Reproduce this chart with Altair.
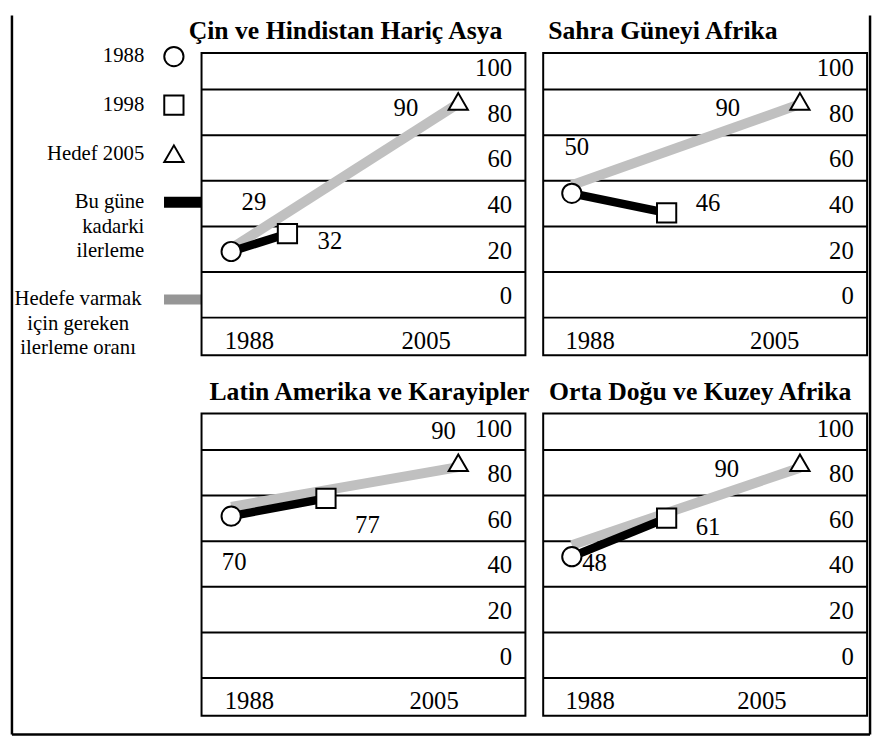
import altair as alt
import pandas as pd

SERIF = "Liberation Serif"

# ---------------- data ----------------
regions = [
    "Çin ve Hindistan Hariç Asya",
    "Sahra Güneyi Afrika",
    "Latin Amerika ve Karayipler",
    "Orta Doğu ve Kuzey Afrika",
]
years = [1988, 1998, 2005]
# heights at which the markers are drawn
marker_1988 = [29.0, 54.5, 71.0, 53.2]
marker_1998 = [36.8, 45.9, 78.8, 70.1]
marker_2005 = [94.8, 94.8, 94.4, 94.4]
# grey "required progress" line, start (1988) and end (2005) as drawn
required_start = [30.3, 58.1, 75.1, 58.3]
required_end = [93.9, 93.6, 92.5, 92.2]
# printed value labels
label_1988 = ["29", "50", "70", "48"]
label_1998 = ["32", "46", "77", "61"]
label_2005 = ["90", "90", "90", "90"]
y_tick_values = [0, 20, 40, 60, 80, 100]
x_tick_values = [1988, 2005]

legend_right_text = ["1988", "1998", "Hedef 2005", "Bu güne", "kadarki", "ilerleme"]
legend_right_row = [0, 2, 4, 6, 7, 8]
legend_center_text = ["Hedefe varmak", "için gereken", "ilerleme oranı"]
legend_center_row = [10, 11, 12]
legend_symbol_year = [1988, 1998, 2005]
legend_symbol_row = [0, 2, 4]
legend_progress_row = [6]
legend_required_row = [10]

# ---------------- layout / style ----------------
PANEL_W, PANEL_H = 328, 306
LEGEND_W = 174
X_RANGE = [[30, 87, 260], [29, 125, 260], [30, 126, 260], [29, 125, 260]]
X_LABEL_2005_SHIFT = [-33, -26, -25, -39]
TITLE_DX = [-13, 5, 8, 6]
LABEL_SHIFT = [
    [(23, -50), (43, 7), (-53, 7)],
    [(5, -47), (42, -10), (-73, 7)],
    [(3, 47), (42, 27), (-15, -32)],
    [(23, 6), (42, 9), (-74, 6)],
]
GREY_LINE = "#c0c0c0"
GREY_LEGEND = "#969696"
SHAPES = ["circle", "square", "triangle-up"]
NO_STROKE = alt.ViewBackground(stroke="transparent")


def panel(i):
    x_enc = alt.X(
        "year:Q",
        scale=alt.Scale(domain=years, range=X_RANGE[i], nice=False, zero=False),
        axis=alt.Axis(
            values=x_tick_values, format="d", grid=False, domain=False, ticks=False,
            tickSize=0, labelPadding=-15, labelBaseline="middle", labelAlign="center",
            labelFlush=False,
            labelOffset={"condition": {"test": "datum.value == 1988", "value": 18},
                         "value": X_LABEL_2005_SHIFT[i]},
            labelFont=SERIF, labelFontSize=25, labelColor="black", title=None,
        ),
    )
    y_enc = alt.Y(
        "value:Q",
        scale=alt.Scale(domain=[-16.5, 116], nice=False, zero=False),
        axis=alt.Axis(
            orient="right", values=y_tick_values, grid=False, domain=False, ticks=False,
            tickSize=0, labelAlign="right", labelBaseline="middle", labelPadding=-14,
            labelOffset=-22, labelFont=SERIF, labelFontSize=25, labelColor="black",
            title=None,
        ),
    )
    grid = pd.DataFrame({"value": y_tick_values})
    req = pd.DataFrame({"year": [1988, 2005], "value": [required_start[i], required_end[i]]})
    prog = pd.DataFrame({"year": [1988, 1998], "value": [marker_1988[i], marker_1998[i]]})
    vals = [marker_1988[i], marker_1998[i], marker_2005[i]]
    marks = pd.DataFrame({"year": years, "value": vals})
    layers = [
        alt.Chart(grid).mark_rule(color="black", strokeWidth=2).encode(
            y=y_enc, x=alt.value(0), x2=alt.value(PANEL_W)),
        alt.Chart(req).mark_line(color=GREY_LINE, strokeWidth=10, strokeCap="butt").encode(x=x_enc, y=y_enc),
        alt.Chart(prog).mark_line(color="black", strokeWidth=8.5, strokeCap="butt").encode(x=x_enc, y=y_enc),
        alt.Chart(marks).mark_point(filled=True, fill="white", stroke="black", strokeWidth=2,
                                    size=380, opacity=1).encode(
            x=x_enc, y=y_enc,
            shape=alt.Shape("year:N", scale=alt.Scale(domain=years, range=SHAPES), legend=None),
        ),
    ]
    texts = [label_1988[i], label_1998[i], label_2005[i]]
    for k in range(3):
        df = pd.DataFrame({"year": [years[k]], "value": [vals[k]], "label": [texts[k]]})
        dx, dy = LABEL_SHIFT[i][k]
        layers.append(
            alt.Chart(df).mark_text(dx=dx, dy=dy, font=SERIF, fontSize=25, color="black",
                                    align="center", baseline="middle").encode(
                x=x_enc, y=y_enc, text="label:N")
        )
    return alt.layer(*layers).properties(
        width=PANEL_W, height=PANEL_H,
        title=alt.TitleParams(regions[i], anchor="start", dx=TITLE_DX[i], dy=26, fontSize=26,
                              font=SERIF, fontWeight="bold", color="black",
                              baseline="alphabetic", offset=14, frame="group"),
    )


# ---------------- legend column ----------------
ly = alt.Scale(domain=[-0.142, 12.297], reverse=True, nice=False, zero=False)
row_y = alt.Y("row:Q", scale=ly, axis=None)
one = pd.DataFrame({"k": [0]})
legend = alt.layer(
    alt.Chart(pd.DataFrame({"row": legend_right_row, "t": legend_right_text})).mark_text(
        align="right", baseline="middle", font=SERIF, fontSize=21, color="black"
    ).encode(x=alt.value(134), y=row_y, text="t:N"),
    alt.Chart(pd.DataFrame({"row": legend_center_row, "t": legend_center_text})).mark_text(
        align="center", baseline="middle", font=SERIF, fontSize=21, color="black"
    ).encode(x=alt.value(67), y=row_y, text="t:N"),
    alt.Chart(pd.DataFrame({"row": legend_symbol_row, "year": legend_symbol_year})).mark_point(
        filled=True, fill="white", stroke="black", strokeWidth=2, size=380, opacity=1
    ).encode(
        x=alt.value(164), y=row_y,
        shape=alt.Shape("year:N", scale=alt.Scale(domain=years, range=SHAPES), legend=None),
    ),
    alt.Chart(pd.DataFrame({"row": legend_progress_row})).mark_rule(
        color="black", strokeWidth=11, strokeCap="butt"
    ).encode(x=alt.value(154), x2=alt.value(192), y=row_y),
    alt.Chart(pd.DataFrame({"row": legend_required_row})).mark_rule(
        color=GREY_LEGEND, strokeWidth=10, strokeCap="butt"
    ).encode(x=alt.value(154), x2=alt.value(192), y=row_y),
    # outer frame
    alt.Chart(one).mark_rule(color="black", strokeWidth=2.5).encode(
        x=alt.value(0), y=alt.value(-38), y2=alt.value(690)),
    alt.Chart(one).mark_rule(color="black", strokeWidth=2.5).encode(
        x=alt.value(869), y=alt.value(-38), y2=alt.value(690)),
    alt.Chart(one).mark_rule(color="black", strokeWidth=2.5).encode(
        x=alt.value(0), x2=alt.value(869), y=alt.value(690)),
).properties(width=LEGEND_W, height=PANEL_H, view=NO_STROKE)

blank = alt.Chart(one).mark_point(opacity=0).encode(
    x=alt.value(0), y=alt.value(0)
).properties(width=LEGEND_W, height=PANEL_H, view=NO_STROKE)

chart = alt.concat(
    legend, panel(0), panel(1), blank, panel(2), panel(3),
    columns=3, spacing={"row": 59, "column": 18}, bounds="flush",
).properties(padding=0, background="white").configure_view(stroke="black", strokeWidth=2)

chart.save("out.html", embed_options={"renderer": "svg", "actions": False})
